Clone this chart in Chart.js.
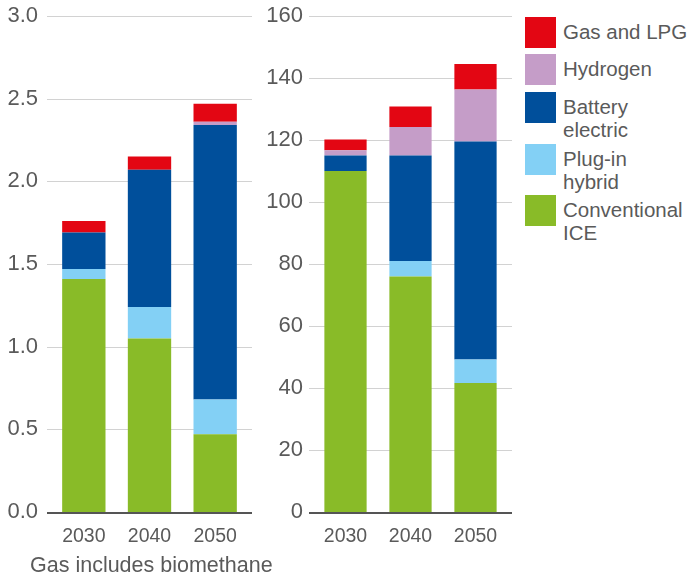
<!DOCTYPE html>
<html>
<head>
<meta charset="utf-8">
<script src="https://cdn.jsdelivr.net/npm/chart.js@4/dist/chart.umd.min.js"></script>
<style>
  body { margin: 0; background: #fff; font-family: "Liberation Sans", Arial, sans-serif; color: #5a5a5a; }
  #wrap { position: relative; width: 691px; height: 576px; overflow: hidden; }
  canvas { position: absolute; top: 0; }
  #leftChart { left: 0; }
  #rightChart { left: 260px; }
  #note { position: absolute; left: 30px; top: 553px; font-size: 21.5px; line-height: 24px; white-space: nowrap; }
  .item { position: absolute; left: 525px; }
  .item .box { position: absolute; left: 0; top: 0; width: 31px; height: 31px; }
  .item .txt { position: absolute; left: 38px; top: 3px; font-size: 20.5px; line-height: 23px; white-space: nowrap; }
</style>
</head>
<body>
<div id="wrap">
  <canvas id="leftChart" width="255" height="576"></canvas>
  <canvas id="rightChart" width="255" height="576"></canvas>
  <div id="note">Gas includes biomethane</div>
  <div id="legend"></div>
</div>
<script>
const years = ["2030", "2040", "2050"];

// left panel
const leftIce = [1.41, 1.05, 0.47];
const leftPlugin = [0.06, 0.19, 0.21];
const leftBattery = [0.22, 0.83, 1.66];
const leftHydrogen = [0, 0, 0.02];
const leftGas = [0.07, 0.08, 0.11];
const leftTicks = [0, 0.5, 1, 1.5, 2, 2.5, 3];

// right panel
const rightIce = [110, 76, 41.6];
const rightPlugin = [0, 5, 7.6];
const rightBattery = [5, 34, 70.3];
const rightHydrogen = [1.7, 9.2, 16.8];
const rightGas = [3.5, 6.6, 8.2];
const rightTicks = [0, 20, 40, 60, 80, 100, 120, 140, 160];

const seriesNames = ["Conventional ICE", "Plug-in hybrid", "Battery electric", "Hydrogen", "Gas and LPG"];
const colors = ["#89bb28", "#83d0f5", "#004f9b", "#c59dc8", "#e30613"];

const legendItems = [
  { label: ["Gas and LPG"], color: "#e30613", top: 17 },
  { label: ["Hydrogen"], color: "#c59dc8", top: 54 },
  { label: ["Battery", "electric"], color: "#004f9b", top: 92 },
  { label: ["Plug-in", "hybrid"], color: "#83d0f5", top: 144 },
  { label: ["Conventional", "ICE"], color: "#89bb28", top: 195 }
];

const legend = document.getElementById("legend");
legendItems.forEach(it => {
  const d = document.createElement("div");
  d.className = "item";
  d.style.top = it.top + "px";
  d.innerHTML = '<div class="box" style="background:' + it.color + '"></div><div class="txt">' + it.label.join("<br>") + "</div>";
  legend.appendChild(d);
});

// horizontal gridlines, a bit wider than the bar area
const gridPlugin = {
  id: "grid",
  beforeDatasetsDraw(chart) {
    const { ctx, chartArea, scales } = chart;
    const y = scales.y;
    ctx.save();
    y.ticks.forEach(t => {
      const py = Math.round(y.getPixelForValue(t.value));
      ctx.beginPath();
      if (t.value === 0) {
        ctx.strokeStyle = "#555555";
        ctx.lineWidth = 2;
        ctx.moveTo(chartArea.left - 4, py + 1);
        ctx.lineTo(chartArea.right + 4, py + 1);
      } else {
        ctx.strokeStyle = "#d2d2d2";
        ctx.lineWidth = 1;
        ctx.moveTo(chartArea.left - 4, py + 0.5);
        ctx.lineTo(chartArea.right + 4, py + 0.5);
      }
      ctx.stroke();
    });
    ctx.restore();
  }
};

function makeChart(id, series, ticks, yMax, step, fmt, axisWidth, labelPad, barPct) {
  const datasets = series.map((vals, i) => ({
    label: seriesNames[i],
    data: vals,
    backgroundColor: colors[i],
    borderWidth: 0,
    categoryPercentage: 1,
    barPercentage: barPct
  }));
  return new Chart(document.getElementById(id), {
    type: "bar",
    data: { labels: years, datasets: datasets },
    options: {
      responsive: false,
      animation: false,
      devicePixelRatio: 1,
      layout: { padding: { top: 16, right: 7, bottom: 0, left: 0 } },
      plugins: { legend: { display: false }, tooltip: { enabled: false } },
      scales: {
        x: {
          stacked: true,
          grid: { display: false, drawTicks: false },
          border: { display: false },
          ticks: { color: "#5a5a5a", font: { family: "Liberation Sans", size: 19.5 }, padding: 13 },
          afterFit: s => { s.height = 64; s.paddingLeft = 0; s.paddingRight = 0; }
        },
        y: {
          stacked: true,
          min: 0,
          max: yMax,
          grid: { display: false, drawTicks: false },
          border: { display: false },
          afterBuildTicks: s => { s.ticks = ticks.map(v => ({ value: v })); },
          ticks: {
            stepSize: step,
            color: "#5a5a5a",
            font: { family: "Liberation Sans", size: 22 },
            padding: labelPad,
            callback: fmt
          },
          afterFit: s => { s.width = axisWidth; s.paddingTop = 0; s.paddingBottom = 0; }
        }
      }
    },
    plugins: [gridPlugin]
  });
}

makeChart("leftChart", [leftIce, leftPlugin, leftBattery, leftHydrogen, leftGas],
  leftTicks, 3, 0.5, v => Number(v).toFixed(1), 51, 13, 0.66);
makeChart("rightChart", [rightIce, rightPlugin, rightBattery, rightHydrogen, rightGas],
  rightTicks, 160, 20, v => String(v), 53, 10, 0.65);
</script>
</body>
</html>
